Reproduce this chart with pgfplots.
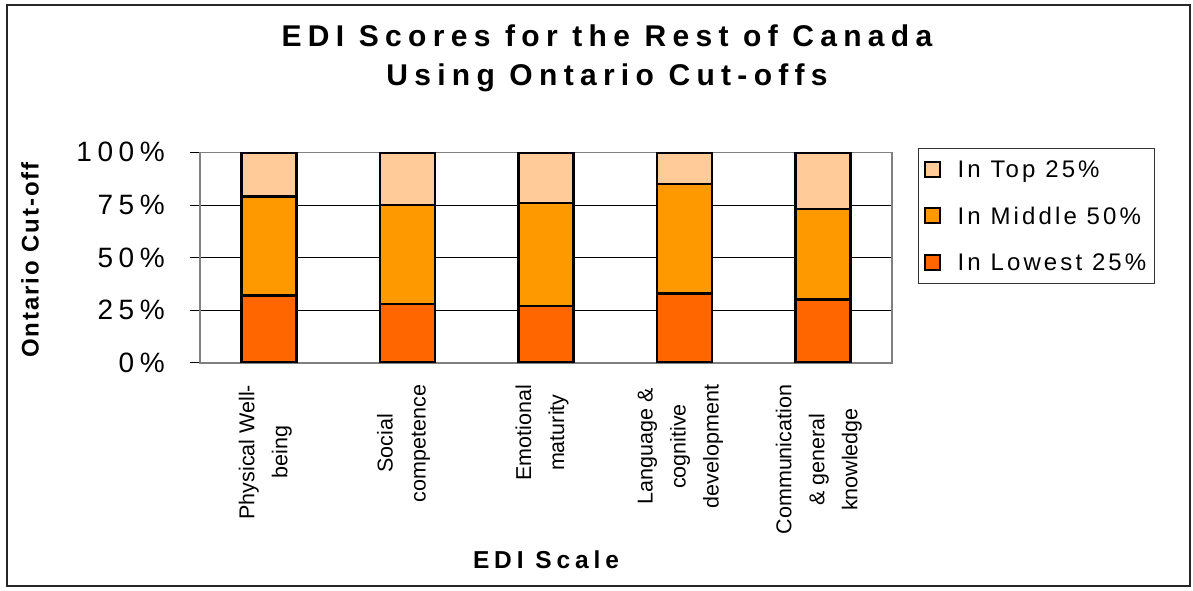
\documentclass[border=0pt]{standalone}
\usepackage{fontspec}
\setmainfont{Liberation Sans}
\newfontfamily\spacedA[LetterSpace=20]{Liberation Sans}
\newfontfamily\spacedT[LetterSpace=21]{Liberation Sans}
\newfontfamily\spacedL[LetterSpace=13]{Liberation Sans}
\newfontfamily\spacedY[LetterSpace=8]{Liberation Sans}
\usepackage{pgfplots}
\pgfplotsset{compat=1.18}
\definecolor{ctop}{HTML}{FFCC99}
\definecolor{cmid}{HTML}{FF9900}
\definecolor{clow}{HTML}{FF6600}
\begin{document}
\begin{tikzpicture}[x=1pt,y=1pt]
\useasboundingbox (0,0) rectangle (1193,590);
\draw[line width=1.6pt, black!85] (7,4) rectangle (1190,585);
\node[font=\spacedT\bfseries\fontsize{30}{39}\selectfont, align=center, inner sep=0pt] at (607,532) {EDI Scores for the Rest of Canada\\Using Ontario Cut-offs};
\node[font=\spacedY\bfseries\fontsize{24}{28}\selectfont, rotate=90, inner sep=0pt] at (30,330) {Ontario Cut-off};
\node[font=\spacedA\bfseries\fontsize{24.5}{28}\selectfont, inner sep=0pt] at (546,30) {EDI Scale};
\begin{axis}[
  at={(200pt,227.3pt)}, anchor=south west,
  scale only axis, width=692pt, height=210.4pt,
  ybar stacked, bar width=55pt,
  xmin=-0.5, xmax=4.5, ymin=0, ymax=100,
  xtick={0,1,2,3,4},
  xticklabels={{Physical Well-\\being},{Social\\competence},{Emotional\\maturity},{Language \&\\cognitive\\development},{Communication\\\& general\\knowledge}},
  minor xtick={-0.5,0.5,1.5,2.5,3.5,4.5},
  ytick={0,25,50,75,100},
  yticklabels={0\%,25\%,50\%,75\%,100\%},
  tick align=outside, tick pos=left,
  major tick length=10pt, minor tick length=6pt,
  xtick style={draw=none},
  minor tick style={black, line width=0.8pt},
  ytick style={black, line width=0.8pt},
  ymajorgrids, major grid style={black, line width=0.8pt},
  axis line style={gray, line width=1.6pt},
  xticklabel style={yshift=-12pt, xshift=-4pt, rotate=90, anchor=east, align=center, inner sep=0pt, font=\fontsize{21.5}{33}\selectfont},
  yticklabel style={anchor=east, inner sep=0pt, xshift=-25pt, font=\spacedA\fontsize{28}{30}\selectfont},
  reverse legend,
  legend style={at={(rel axis cs:1.0376,1.0204)}, anchor=north west, draw=black!80, line width=0.8pt,
    font=\spacedL\fontsize{24}{26}\selectfont, row sep=24pt, inner xsep=6pt, inner ysep=10pt},
  legend cell align=left,
  legend image code/.code={\draw[#1, line width=2pt, draw=black] (8pt,-7pt) rectangle (23pt,8pt); \path (37pt,0pt);},
  every axis plot/.append style={draw=black, line width=2.5pt},
]
\addplot[fill=clow] coordinates {(0,32) (1,28) (2,27) (3,33) (4,30)};
\addplot[fill=cmid] coordinates {(0,47) (1,47) (2,49) (3,52) (4,43)};
\addplot[fill=ctop] coordinates {(0,21) (1,25) (2,24) (3,15) (4,27)};
\legend{In Lowest 25\%,In Middle 50\%,In Top 25\%}
\end{axis}
\end{tikzpicture}
\end{document}
